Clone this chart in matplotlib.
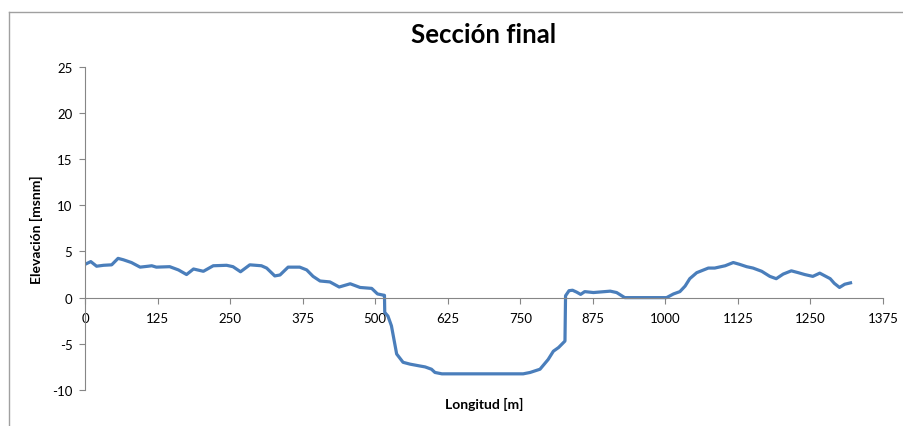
import matplotlib.pyplot as plt
from matplotlib.lines import Line2D

# Perfil transversal - sección final
longitud = [0, 10, 20, 32, 46, 57, 66, 80, 95, 109, 115, 123, 146, 161, 175, 187,
            204, 221, 244, 255, 268, 284, 304, 313, 327, 336, 350, 370, 382, 393,
            405, 422, 438, 457, 474, 494, 504, 514, 516, 516.5, 522, 528, 537, 548,
            560, 577, 586, 597, 603, 615, 755, 767, 784, 798, 807, 816, 827, 828,
            834, 840, 847, 854, 861, 876, 905, 916, 930, 1002, 1014, 1025, 1034,
            1042, 1054, 1062, 1074, 1085, 1103, 1117, 1128, 1140, 1151, 1166, 1180,
            1191, 1203, 1217, 1229, 1240, 1254, 1266, 1284, 1291, 1300, 1309, 1319]
elevacion = [3.6, 3.9, 3.4, 3.5, 3.55, 4.25, 4.1, 3.8, 3.3, 3.4, 3.45, 3.3, 3.35,
             3.0, 2.5, 3.1, 2.85, 3.45, 3.5, 3.35, 2.8, 3.55, 3.45, 3.2, 2.35, 2.45,
             3.3, 3.3, 3.0, 2.3, 1.8, 1.7, 1.15, 1.5, 1.1, 1.0, 0.4, 0.27, 0.25,
             -1.6, -2.0, -3.05, -6.1, -7.0, -7.2, -7.4, -7.5, -7.75, -8.1, -8.25,
             -8.25, -8.1, -7.75, -6.7, -5.8, -5.4, -4.7, 0.2, 0.75, 0.8, 0.6, 0.35,
             0.65, 0.55, 0.7, 0.55, 0.0, 0.0, 0.4, 0.65, 1.25, 2.05, 2.7, 2.9, 3.2,
             3.2, 3.45, 3.8, 3.6, 3.35, 3.2, 2.85, 2.3, 2.05, 2.55, 2.9, 2.7, 2.5,
             2.3, 2.65, 2.05, 1.55, 1.1, 1.45, 1.6]

x_ticks = list(range(0, 1376, 125))
y_ticks = list(range(-10, 26, 5))

plt.rcParams['font.family'] = ['Lato', 'DejaVu Sans']
plt.rcParams['axes.unicode_minus'] = False

fig = plt.figure(figsize=(9.04, 4.27), dpi=100)
ax = fig.add_axes([0.094, 0.0843, 0.8828, 0.7572])

ax.plot(longitud, elevacion, color='#4a7ebb', linewidth=2.3, solid_joinstyle='round')

ax.set_xlim(0, 1375)
ax.set_ylim(-10, 25)
ax.set_xticks(x_ticks)
ax.set_yticks(y_ticks)

grey = '#868686'
for s in ['top', 'right']:
    ax.spines[s].set_visible(False)
ax.spines['bottom'].set_position(('data', 0))
ax.spines['left'].set_color(grey)
ax.spines['bottom'].set_color(grey)
ax.tick_params(direction='out', length=4, width=0.8, color=grey,
               labelsize=9.5, labelcolor='black')
ax.tick_params(axis='x', pad=6)
ax.tick_params(axis='y', pad=5)

ax.set_title('Sección final', fontsize=18.5, fontweight='bold', pad=18)
ax.set_ylabel('Elevación [msnm]', fontsize=10, fontweight='bold')
ax.yaxis.set_label_coords(-0.052, 0.5)
ax.set_xlabel('Longitud [m]', fontsize=10, fontweight='bold')
ax.xaxis.set_label_coords(0.5, -0.022)

# marco del área del gráfico
fig.add_artist(Line2D([9 / 904, 1], [1 - 13 / 427] * 2, color='#a0a0a0', lw=1))
fig.add_artist(Line2D([9 / 904] * 2, [0, 1 - 13 / 427], color='#a0a0a0', lw=1))

plt.savefig('out.png', dpi=100)
